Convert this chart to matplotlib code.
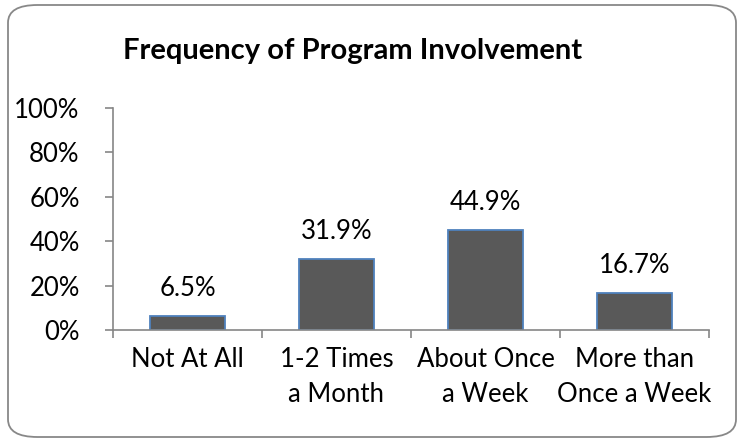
import matplotlib.pyplot as plt
from matplotlib.patches import FancyBboxPatch
import numpy as np

# Data
categories = ["Not At All", "1-2 Times\na Month", "About Once\na Week", "More than\nOnce a Week"]
values = [6.5, 31.9, 44.9, 16.7]
yticks = [0, 20, 40, 60, 80, 100]

plt.rcParams['font.family'] = ['Lato', 'DejaVu Sans']

W, H = 738, 441
fig = plt.figure(figsize=(W / 100, H / 100), dpi=100)

# rounded chart border
border = FancyBboxPatch((8 / W, 4 / H), 728 / W, 432 / H,
                        boxstyle="round,pad=0,rounding_size=0.04",
                        transform=fig.transFigure, fill=False,
                        edgecolor="#888888", linewidth=1.3)
fig.patches.append(border)

ax = fig.add_axes([113 / W, (H - 330) / H, 596 / W, 222 / H])

x = np.arange(len(categories))
ax.bar(x, values, width=0.51, color="#595959", edgecolor="#4F81BD", linewidth=1.3)

for xi, v in zip(x, values):
    ax.text(xi, v + 9, f"{v}%", ha="center", va="baseline", fontsize=18.5)

ax.set_xlim(-0.5, len(categories) - 0.5)
ax.set_ylim(0, 100)
ax.set_yticks(yticks)
ax.set_yticklabels([f"{t}%" for t in yticks], fontsize=18.5)

ax.set_xticks(x)
ax.set_xticklabels(categories, fontsize=18.5, linespacing=1.5)
ax.tick_params(axis="x", length=0, pad=12)
ax.set_xticks(np.arange(-0.5, len(categories)), minor=True)
ax.tick_params(axis="x", which="minor", length=6, color="#868686", width=1.2)
ax.tick_params(axis="y", length=6, color="#868686", width=1.2, pad=18)

for side in ["top", "right"]:
    ax.spines[side].set_visible(False)
for side in ["left", "bottom"]:
    ax.spines[side].set_color("#868686")
    ax.spines[side].set_linewidth(1.2)

fig.text(353 / W, 1 - 51 / H, "Frequency of Program Involvement",
         ha="center", va="center", fontsize=21, fontweight="bold")

fig.savefig("out.png", dpi=100)
